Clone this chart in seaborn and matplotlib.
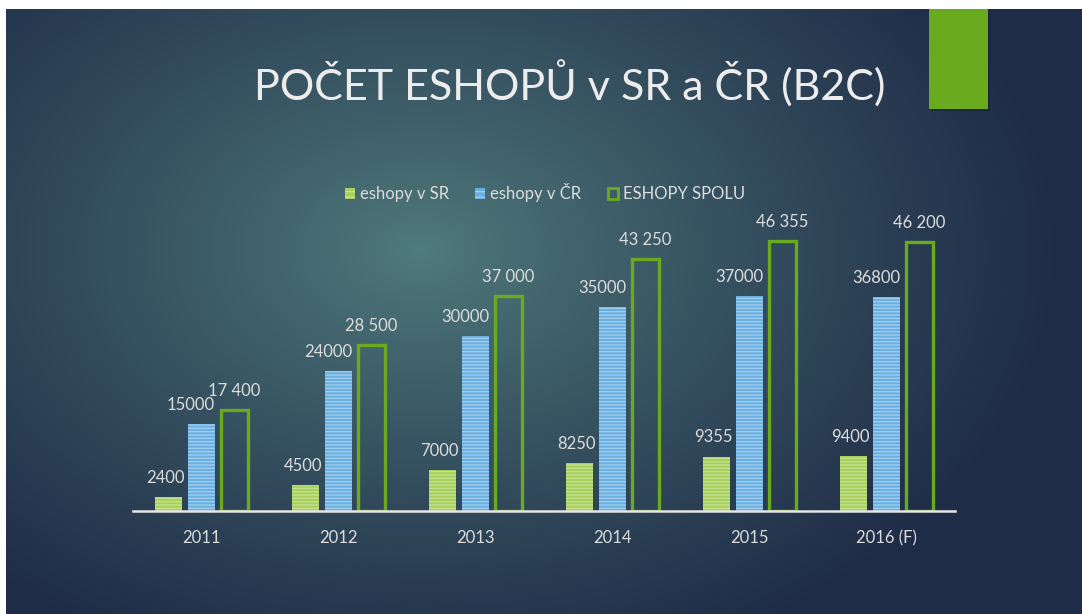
import numpy as np
import pandas as pd
import matplotlib
matplotlib.use("Agg")
import matplotlib.pyplot as plt
import seaborn as sns
from matplotlib.patches import Rectangle, Patch
from matplotlib.colors import to_rgb

# ---- data ----
years = ["2011", "2012", "2013", "2014", "2015", "2016 (F)"]
eshopy_sr = [2400, 4500, 7000, 8250, 9355, 9400]
eshopy_cr = [15000, 24000, 30000, 35000, 37000, 36800]
eshopy_spolu = [17400, 28500, 37000, 43250, 46355, 46200]
labels_sr = ["2400", "4500", "7000", "8250", "9355", "9400"]
labels_cr = ["15000", "24000", "30000", "35000", "37000", "36800"]
labels_spolu = ["17 400", "28 500", "37 000", "43 250", "46 355", "46 200"]
series_names = ["eshopy v SR", "eshopy v ČR", "ESHOPY SPOLU"]
title = "POČET ESHOPŮ v SR a ČR (B2C)"

df = pd.DataFrame({
    "rok": years * 3,
    "pocet": eshopy_sr + eshopy_cr + eshopy_spolu,
    "seria": [series_names[0]] * 6 + [series_names[1]] * 6 + [series_names[2]] * 6,
})

sns.set_theme(style="white")
plt.rcParams["font.family"] = ["Lato", "DejaVu Sans"]

W, H = 1082, 614
fig = plt.figure(figsize=(W / 100, H / 100), dpi=100)

# background radial gradient
bg = fig.add_axes([0, 0, 1, 1], zorder=-10)
yy, xx = np.mgrid[0:H, 0:W]
cx, cy = 420, 250
d = np.sqrt(((xx - cx) / 640.0) ** 2 + ((yy - cy) / 440.0) ** 2)
t = np.clip(d, 0, 1) ** 0.85
c0 = np.array(to_rgb("#507c7d"))
c1 = np.array(to_rgb("#1f2c47"))
img = c0[None, None, :] * (1 - t[..., None]) + c1[None, None, :] * t[..., None]
bg.imshow(img, extent=[0, W, H, 0], aspect="auto")
bg.set_xlim(0, W)
bg.set_ylim(H, 0)
bg.axis("off")
# white strips at edges
bg.add_patch(Rectangle((0, 0), W, 9, color="white", lw=0))
bg.add_patch(Rectangle((0, 0), 6, H, color="white", lw=0))
# green accent rectangle
bg.add_patch(Rectangle((931, 11), 59, 100, color="#1a2236", lw=0, alpha=0.5))
bg.add_patch(Rectangle((929, 9), 59, 100, color="#6aaa1e", lw=0))

# main axes
ax_left, ax_right, base_y, top_y = 133, 955, 511, 220
ax = fig.add_axes([ax_left / W, (H - base_y) / H, (ax_right - ax_left) / W, (base_y - top_y) / H])
ax.patch.set_alpha(0)

plt.rcParams["hatch.linewidth"] = 1.0
sns.barplot(data=df, x="rok", y="pocet", hue="seria", hue_order=series_names,
            palette=["#a6cf5c", "#6aaee0", "#6aaa1e"], width=0.72, gap=0.18,
            ax=ax, legend=False, saturation=1)

ax.set_ylim(0, 50000)
ax.set_xlim(-0.5, len(years) - 0.5)

sr_color, cr_color, sp_color = "#a6cf5c", "#6aaee0", "#6aaa1e"
conts = ax.containers
for p in conts[0]:
    p.set_facecolor(sr_color)
    p.set_edgecolor("#c4e28e")
    p.set_linewidth(0)
    p.set_hatch("-----")
for p in conts[1]:
    p.set_facecolor(cr_color)
    p.set_edgecolor("#9fcdef")
    p.set_linewidth(0)
    p.set_hatch("-----")
for p in conts[2]:
    p.set_facecolor("none")
    p.set_edgecolor(sp_color)
    p.set_linewidth(2.4)
    p.set_hatch(None)

lab_color = "#dcdcdc"
for p, s in zip(conts[0], labels_sr):
    ax.annotate(s, (p.get_x() + p.get_width() / 2, p.get_height()), xytext=(-2, 8),
                textcoords="offset points", ha="center", va="bottom", fontsize=12, color=lab_color)
for p, s in zip(conts[1], labels_cr):
    ax.annotate(s, (p.get_x() + p.get_width(), p.get_height()), xytext=(0, 8),
                textcoords="offset points", ha="right", va="bottom", fontsize=12, color=lab_color)
for p, s in zip(conts[2], labels_spolu):
    ax.annotate(s, (p.get_x() + p.get_width() / 2, p.get_height()), xytext=(0, 8),
                textcoords="offset points", ha="center", va="bottom", fontsize=12, color=lab_color)

ax.set_xlabel("")
ax.set_ylabel("")
ax.set_yticks([])
for s in ["top", "right", "left"]:
    ax.spines[s].set_visible(False)
ax.spines["bottom"].set_color("#e6e6e6")
ax.spines["bottom"].set_linewidth(1.8)
ax.tick_params(axis="x", length=0, pad=14, labelsize=12, colors=lab_color)

# legend
handles = [
    Patch(facecolor=sr_color, edgecolor="#c4e28e", hatch="---", lw=0),
    Patch(facecolor=cr_color, edgecolor="#9fcdef", hatch="---", lw=0),
    Patch(facecolor="none", edgecolor=sp_color, lw=2),
]
fig.legend(handles, series_names, loc="center", bbox_to_anchor=(545 / W, 1 - 193 / H),
           ncol=3, frameon=False, fontsize=12, labelcolor=lab_color,
           handlelength=0.6, handleheight=0.6, handletextpad=0.3, columnspacing=1.6)

fig.text(570 / W, 1 - 84 / H, title, ha="center", va="center", fontsize=31, color="#ececec")

fig.savefig("out.png", dpi=100)
